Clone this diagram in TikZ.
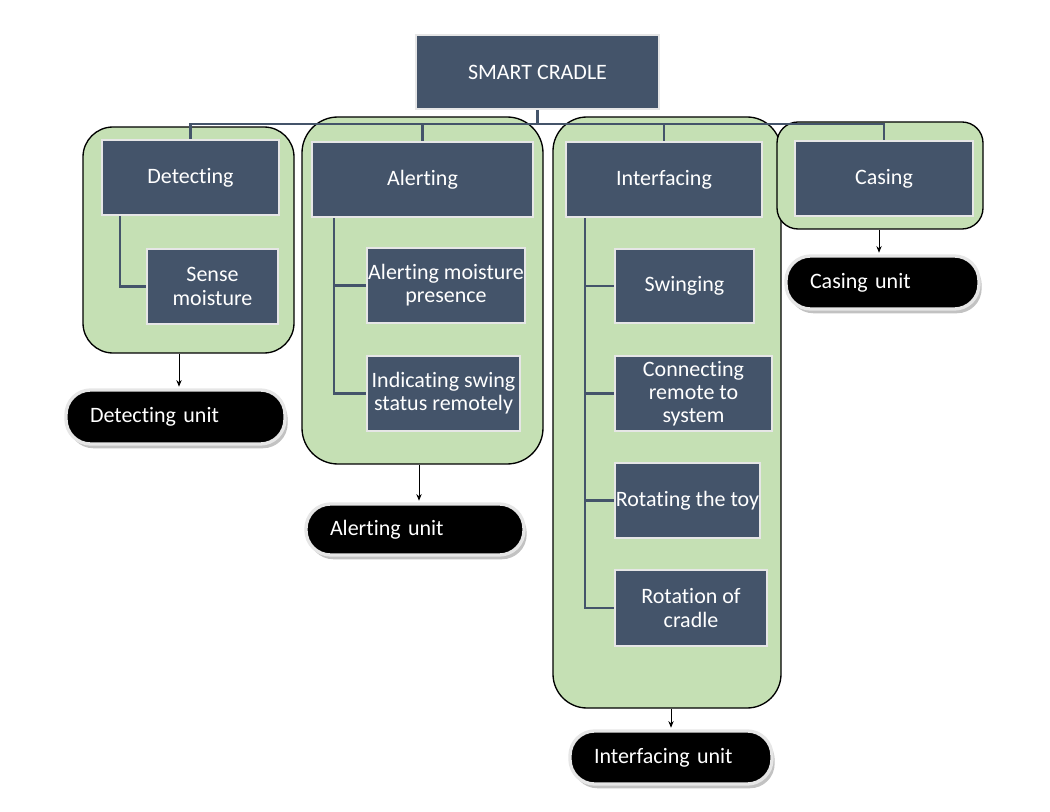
\documentclass[tikz,border=0pt]{standalone}
\usepackage{fontspec}
\setmainfont{Carlito}[Ligatures={NoCommon}]
\usetikzlibrary{arrows.meta,shadows}
\definecolor{slate}{HTML}{44546A}
\definecolor{leaf}{HTML}{C5E0B4}
\definecolor{rim}{HTML}{E6E6E6}
\pgfdeclarelayer{bg}
\pgfdeclarelayer{mid}
\pgfsetlayers{bg,mid,main}
\newcommand\boxat[6]{\node[darkbox, minimum width={(#4-#2)*0.75pt}, minimum height={(#5-#3)*0.75pt}] (#1) at ({(#2+#4)/2},{(#3+#5)/2}) {#6};}
\newcommand\contat[6]{\node[cont, rounded corners={#6*0.75pt}, minimum width={(#4-#2)*0.75pt}, minimum height={(#5-#3)*0.75pt}] (#1) at ({(#2+#4)/2},{(#3+#5)/2}) {};}
\newcommand\pillat[6]{\node[pill, minimum width={(#4-#2)*0.75pt}, minimum height={(#5-#3)*0.75pt}, text width={(#4-#2-48)*0.75pt}] (#1) at ({(#2+#4)/2},{(#3+#5)/2}) {#6};}
\begin{document}
\begin{tikzpicture}[x=0.75pt,y=-0.75pt,
  darkbox/.style={fill=slate, draw=rim, line width=1.8pt, text=white, align=center, inner sep=0pt, font=\fontsize{16.5}{17.4}\selectfont},
  cont/.style={fill=leaf, draw=black, line width=1pt, inner sep=0pt},
  tree/.style={draw=slate, line width=1.6pt},
  arr/.style={draw=black, line width=0.6pt, shorten >=1.2pt, -{Stealth[length=5pt,width=4pt]}},
  pill/.style={fill=black, draw=rim, line width=2.5pt, rounded corners=18.5pt, text=white, align=left, inner xsep=18pt, inner ysep=0pt, font=\fontsize{16.5}{17.4}\selectfont,
    drop shadow={shadow xshift=2pt, shadow yshift=-3.2pt, fill=black!40, opacity=0.6}}]
\useasboundingbox (0,0) rectangle (1050,812);

\begin{pgfonlayer}{bg}
\contat{cdet}{83}{127}{294}{353}{30}
\contat{cal}{302}{117}{543}{464}{36}
\contat{cint}{553}{117}{781}{708}{34}
\contat{ccas}{777}{122}{983}{229}{21}
\end{pgfonlayer}

\boxat{bsc}{416}{35}{659}{109}{SMART CRADLE}
\boxat{bdet}{102}{140}{279}{215}{Detecting}
\boxat{bsen}{147}{249}{278}{324}{Sense\\moisture}
\boxat{bal}{312}{142}{533}{217}{Alerting}
\boxat{bam}{367}{248}{525}{323}{Alerting moisture\\presence}
\boxat{bis}{367}{356}{520}{431}{Indicating swing\\status remotely}
\boxat{bint}{566}{142}{762}{217}{Interfacing}
\boxat{bsw}{615}{249}{754}{323}{Swinging}
\boxat{bcon}{615}{356}{772}{431}{Connecting\\remote to\\system}
\boxat{brot}{615}{463}{760}{538}{Rotating the toy}
\boxat{brc}{615}{570}{767}{646}{Rotation of\\cradle}
\boxat{bcas}{795}{141}{973}{216}{Casing}

\coordinate (busY) at (0,124);
\begin{pgfonlayer}{mid}
\draw[tree] (bsc.south) -- (bsc.south |- busY);
\draw[tree] (bdet.north) -- (bdet.north |- busY) -- (bcas.north |- busY) -- (bcas.north);
\draw[tree] (bal.north) -- (bal.north |- busY);
\draw[tree] (bint.north) -- (bint.north |- busY);
\draw[tree] (120,0 |- bdet.south) |- (bsen.west);
\draw[tree] (334,0 |- bal.south) |- (bam.west);
\draw[tree] (334,0 |- bal.south) |- (bis.west);
\draw[tree] (585,0 |- bint.south) |- (bsw.west);
\draw[tree] (585,0 |- bint.south) |- (bcon.west);
\draw[tree] (585,0 |- bint.south) |- (brot.west);
\draw[tree] (585,0 |- bint.south) |- (brc.west);
\end{pgfonlayer}

\pillat{pdet}{66}{390}{285}{444}{Detecting unit}
\pillat{pal}{306}{504}{524}{555}{Alerting unit}
\pillat{pcas}{786}{256}{979}{309}{Casing unit}
\pillat{pint}{570}{731}{772}{784}{Interfacing unit}

\draw[arr] (179,0 |- cdet.south) -- (179,0 |- pdet.north);
\draw[arr] (419,0 |- cal.south) -- (419,0 |- pal.north);
\draw[arr] (879,0 |- ccas.south) -- (879,0 |- pcas.north);
\draw[arr] (671,0 |- cint.south) -- (671,0 |- pint.north);
\end{tikzpicture}
\end{document}
